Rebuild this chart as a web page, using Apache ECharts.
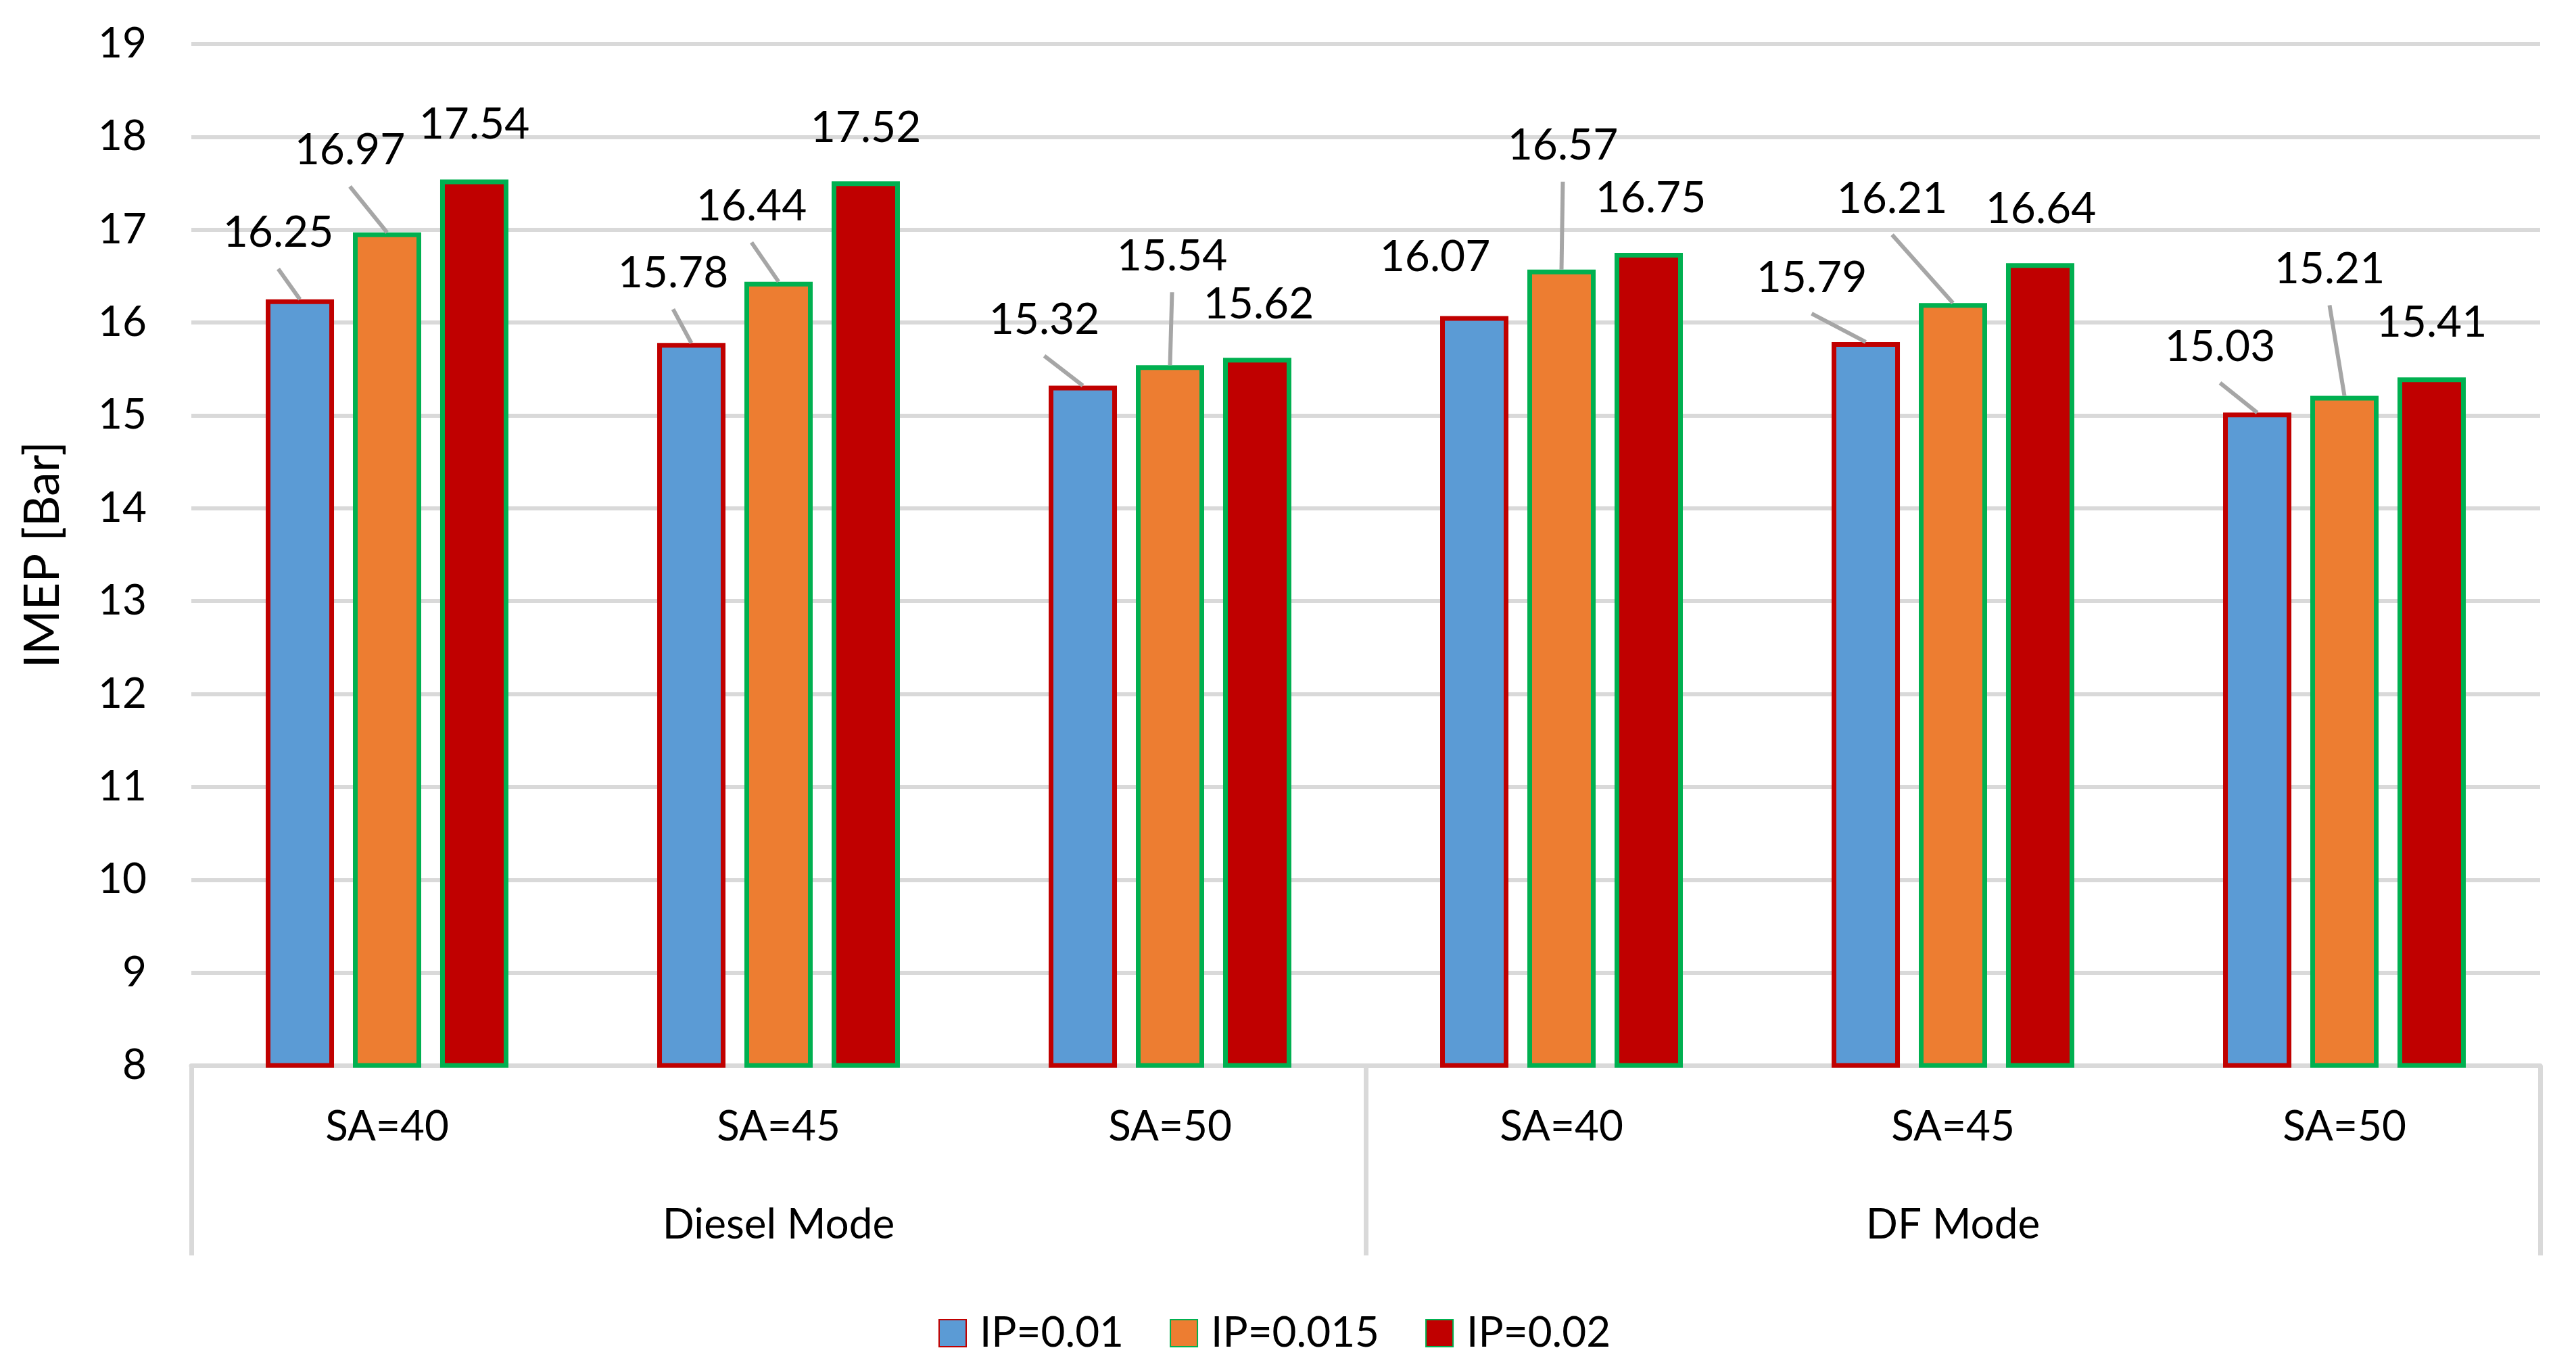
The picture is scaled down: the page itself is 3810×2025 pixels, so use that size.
<!DOCTYPE html>
<html>
<head>
<meta charset="utf-8">
<script src="https://cdn.jsdelivr.net/npm/echarts@6/dist/echarts.min.js"></script>
<style>
  html, body { margin: 0; padding: 0; background: #ffffff; }
  #chart { width: 3810px; height: 2025px; }
</style>
</head>
<body>
<div id="chart"></div>
<script>
// ---- data ----
const CATEGORIES = ['SA=40', 'SA=45', 'SA=50', 'SA=40', 'SA=45', 'SA=50'];
const GROUPS = ['Diesel Mode', 'DF Mode'];
const SERIES_NAMES = ['IP=0.01', 'IP=0.015', 'IP=0.02'];
const IP_001 = [16.25, 15.78, 15.32, 16.07, 15.79, 15.03];
const IP_0015 = [16.97, 16.44, 15.54, 16.57, 16.21, 15.21];
const IP_002 = [17.54, 17.52, 15.62, 16.75, 16.64, 15.41];
const Y_MIN = 8, Y_MAX = 19, Y_STEP = 1;
const Y_NAME = 'IMEP [Bar]';

// ---- styling (label placement offsets, leader-line visibility) ----
const LABEL_OFFSETS = [
  [[-32, -61], [-27, -66], [-57, -60], [-58, -50], [-80, -58], [-55, -60]],
  [[-55, -84], [-40, -74], [3, -124], [2, -146], [-90, -117], [-22, -150]],
  [[0, -44], [0, -42], [2, -42], [3, -44], [1, -43], [0, -44]]
];
const LEADER_SHOW = [
  [true, true, true, false, true, true],
  [true, true, true, true, true, true],
  [false, false, false, false, false, false]
];
const LEADER_END_GAP = 16;
const FILLS = ['#5B9BD5', '#ED7D31', '#C00000'];
const BORDERS = ['#C00000', '#00B050', '#00B050'];
const BAR_WIDTH = 101;
const BAR_GAP_RATIO = 0.277;
const FONT = 'Lato, "Open Sans", sans-serif';
const GRID_COLOR = '#D9D9D9';

const chart = echarts.init(document.getElementById('chart'), null, { renderer: 'canvas' });

const valuesList = [IP_001, IP_0015, IP_002];
const barStep = BAR_WIDTH * (1 + BAR_GAP_RATIO);

const series = SERIES_NAMES.map((name, s) => ({
  name: name,
  type: 'bar',
  barWidth: BAR_WIDTH,
  barGap: (BAR_GAP_RATIO * 100) + '%',
  z: 2,
  itemStyle: { color: FILLS[s], borderColor: BORDERS[s], borderWidth: 7 },
  label: {
    show: true,
    position: 'top',
    distance: 5,
    color: '#000',
    fontFamily: FONT,
    fontSize: 64,
    formatter: (p) => p.value.toFixed(2)
  },
  labelLine: { show: false },
  labelLayout: function (params) {
    const o = LABEL_OFFSETS[s][params.dataIndex];
    return { dx: o[0], dy: o[1] };
  },
  data: valuesList[s]
}));

// leader lines: from each bar's top centre toward its moved label
const leaderData = [];
valuesList.forEach((vals, s) => {
  vals.forEach((v, i) => { if (LEADER_SHOW[s][i]) leaderData.push([i, v, s]); });
});
series.push({
  name: 'leaders',
  type: 'custom',
  silent: true,
  z: 3,
  encode: { x: 0, y: 1 },
  data: leaderData,
  renderItem: function (params, api) {
    const i = api.value(0), v = api.value(1), s = api.value(2);
    const p = api.coord([i, v]);
    const bx = p[0] + (s - 1) * barStep;
    const by = p[1];
    const o = LABEL_OFFSETS[s][i];
    return {
      type: 'line',
      shape: { x1: bx, y1: by, x2: bx + o[0], y2: by + o[1] + LEADER_END_GAP },
      style: { stroke: '#A6A6A6', lineWidth: 6 }
    };
  }
});

chart.setOption({
  animation: false,
  backgroundColor: '#ffffff',
  grid: { left: 283, right: 53, top: 65, bottom: 449, containLabel: false },
  legend: {
    data: SERIES_NAMES,
    left: 1383,
    top: 1936,
    icon: 'rect',
    itemWidth: 40,
    itemHeight: 40,
    itemGap: 68,
    textStyle: { color: '#000', fontFamily: FONT, fontSize: 62, padding: [0, 0, 0, 15] }
  },
  xAxis: [
    {
      type: 'category',
      data: CATEGORIES,
      position: 'bottom',
      offset: 0,
      axisLine: { show: true, lineStyle: { color: GRID_COLOR, width: 7 } },
      axisTick: { show: false },
      axisLabel: { color: '#000', fontFamily: FONT, fontSize: 62, margin: 60, interval: 0 },
      splitLine: { show: false }
    },
    {
      type: 'category',
      data: GROUPS,
      position: 'bottom',
      offset: 0,
      axisLine: { show: false },
      axisTick: { show: true, length: 281, lineStyle: { color: GRID_COLOR, width: 7 } },
      axisLabel: { color: '#000', fontFamily: FONT, fontSize: 62, margin: 205, interval: 0 },
      splitLine: { show: false }
    }
  ],
  yAxis: {
    type: 'value',
    min: Y_MIN,
    max: Y_MAX,
    interval: Y_STEP,
    name: Y_NAME,
    nameLocation: 'middle',
    nameGap: 183,
    nameTextStyle: { color: '#000', fontFamily: FONT, fontSize: 71 },
    axisLine: { show: false },
    axisTick: { show: false },
    axisLabel: { color: '#000', fontFamily: FONT, fontSize: 62, margin: 66 },
    splitLine: { show: true, lineStyle: { color: GRID_COLOR, width: 6 } }
  },
  series: series
});
</script>
</body>
</html>
